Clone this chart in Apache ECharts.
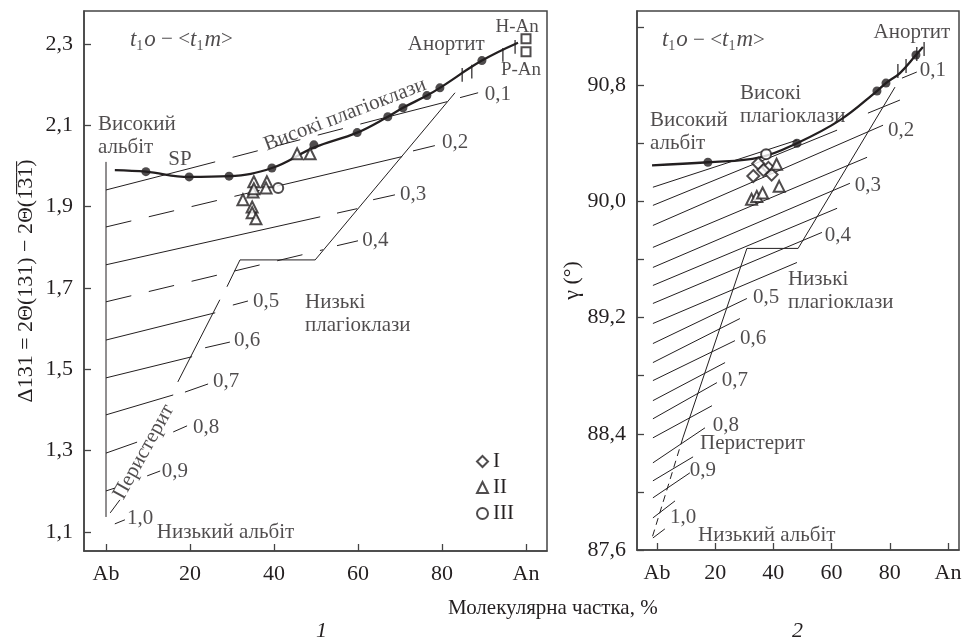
<!DOCTYPE html>
<html>
<head>
<meta charset="utf-8">
<script src="https://cdn.jsdelivr.net/npm/echarts@6/dist/echarts.min.js"></script>
<style>
  html, body { margin: 0; padding: 0; background: #fff; }
  #chart { width: 968px; height: 640px; }
</style>
</head>
<body>
<div id="chart"></div>
<script>
const FONT = "'Liberation Serif', 'DejaVu Serif', serif";
const INK = "#231f20";

// ---------- panel 1 : Δ131 ----------
const curve1 = [[2.1,1.99],[9.5,1.986],[19.8,1.973],[29.3,1.975],[39.5,1.995],[49.5,2.045],[59.8,2.082],[67.1,2.121],[70.7,2.143],[76.4,2.173],[79.5,2.192],[89.5,2.259],[98.1,2.303]];
const dots1 = [[9.5,1.986],[19.8,1.973],[29.3,1.975],[39.5,1.995],[49.5,2.052],[59.8,2.082],[67.1,2.121],[70.7,2.143],[76.4,2.173],[79.5,2.192],[89.5,2.259]];
const tri1 = [[35.2,1.961],[38.3,1.961],[35.0,1.936],[38.1,1.946],[32.6,1.917],[34.8,1.899],[34.8,1.885],[35.7,1.870],[35.2,1.944],[45.5,2.030],[48.6,2.030]];
const circ1 = [[41,1.946]];
const sq1 = [[100,2.313],[100,2.281]];
const curveTicks1 = [[84.8,2.207,2.241],[87.1,2.215,2.249],[94.5,2.256,2.290],[97.4,2.276,2.310]];
const solid1 = [
  [[0,1.941],[20,1.994]], [[65,2.115],[81.2,2.158]],
  [[41,1.951],[70.5,2.023]],
  [[0,1.757],[51,1.875]], [[55,1.884],[59.8,1.895]],
  [[0,1.572],[26,1.639]],
  [[0,1.479],[20.5,1.531]],
  [[0,1.388],[16,1.437]],
  [[0,1.294],[7.4,1.321]],
  [[0,1.201],[2.1,1.208]],
  [[0,2.010],[0,1.137]],
  [[83.1,2.180],[49.8,1.769],[31.9,1.769],[28.8,1.703]],
  [[27.1,1.671],[17.1,1.469]],
  [[3.3,1.179],[1.0,1.147]]
];
const dashed1 = [
  [[20,1.994],[65,2.115]],
  [[0,1.85],[41,1.951]],
  [[0,1.666],[51.7,1.794]]
];
const leaders1 = [
  [[84.3,2.168],[88.6,2.180]], [[73.1,2.037],[78.3,2.050]], [[63.6,1.917],[68.8,1.929]],
  [[55,1.804],[60,1.816]], [[30.2,1.658],[33.8,1.668]], [[23.6,1.553],[29.5,1.567]],
  [[18.8,1.444],[24.3,1.464]], [[16,1.346],[19.3,1.361]], [[9.8,1.238],[12.9,1.250]],
  [[2.1,1.120],[4.5,1.130]]
];
const orderPos1 = [[90.2,2.175],[80,2.057],[70,1.929],[61,1.816],[35,1.666],[30.5,1.570],[25.5,1.469],[20.7,1.358],[13.3,1.248],[5,1.134]];

// ---------- panel 2 : γ ----------
const curve2 = [[-1.7,90.248],[17.5,90.269],[35.4,90.303],[48.1,90.40],[62.9,90.559],[75.6,90.759],[78.7,90.814],[83.5,90.883],[89,91.007],[91.4,91.062]];
const dots2 = [[17.5,90.269],[48.1,90.40],[75.6,90.759],[78.7,90.814],[89,91.007]];
const dia2 = [[34.8,90.26],[38.3,90.23],[33.1,90.174],[39.4,90.184],[36.6,90.215]];
const tri2 = [[41.1,90.255],[42.0,90.103],[32.5,90.014],[34.3,90.034],[36.3,90.057]];
const circ2 = [[37.5,90.324]];
const curveTicks2 = [[82.8,90.849,90.945],[85.6,90.883,90.979],[89.3,90.966,91.062],[91.8,91.0,91.096]];
const solid2 = [
  [[-1.4,90.097],[48.1,90.421]], [[72.5,90.607],[83.5,90.697]],
  [[-1.4,89.972],[61.9,90.490]],
  [[-1.4,89.834],[77.7,90.524]],
  [[-1.4,89.683],[72.2,90.303]],
  [[-1.4,89.545],[66.3,90.124]],
  [[-1.4,89.421],[61.9,89.952]],
  [[-1.4,89.297],[56.7,89.786]],
  [[-1.4,89.159],[48.1,89.579]],
  [[-1.4,89.021],[30.9,89.331]],
  [[-1.4,88.890],[28.5,89.193]],
  [[-1.4,88.766],[26.8,89.041]],
  [[-1.4,88.628],[23.4,88.890]],
  [[-1.4,88.503],[20.6,88.752]],
  [[-1.4,88.372],[18.9,88.593]],
  [[-1.4,88.200],[16.5,88.441]],
  [[-1.4,88.076],[12.4,88.241]],
  [[-1.4,87.959],[11.3,88.131]],
  [[-1.4,87.821],[6.2,87.938]],
  [[-1.4,87.683],[2.7,87.745]],
  [[81.8,90.786],[48.5,89.676],[30.9,89.676],[8.9,88.372]],
  [[84.2,90.848],[89.3,90.890]]
];
const dashed2 = [
  [[8.9,88.372],[-1.7,87.683]]
];
const orderPos2 = [[90.3,90.903],[79.4,90.49],[68.0,90.11],[57.7,89.766],[33.0,89.338],[28.5,89.055],[22.3,88.766],[19.2,88.455],[11.3,88.145],[4.5,87.821]];

const orderLabels = ["0,1","0,2","0,3","0,4","0,5","0,6","0,7","0,8","0,9","1,0"];
const xTicks = [0,20,40,60,80,100];
const yTicks1 = [1.1,1.3,1.5,1.7,1.9,2.1,2.3];
const yLabels2 = [87.6,88.4,89.2,90.0,90.8];
const yTicks2 = [87.6,88.0,88.4,88.8,89.2,89.6,90.0,90.4,90.8,91.2];

const T1O = "{i|t}{s|1}{i|o} − <{i|t}{s|1}{i|m}>";
const notes1 = [
  { t: T1O, p: [5.7,2.310], a: "left" },
  { t: "Високий\nальбіт", p: [-1.9,2.073], a: "left" },
  { t: "SP", p: [17.6,2.017], a: "center" },
  { t: "Високі плагіоклази", p: [56.9,2.126], a: "center", r: 21 },
  { t: "Анортит", p: [81,2.298], a: "center" },
  { t: "H-An", p: [97.9,2.342], a: "center", f: 19 },
  { t: "P-An", p: [98.8,2.237], a: "center", f: 19 },
  { t: "Низькі\nплагіоклази", p: [47.4,1.636], a: "left" },
  { t: "Перистерит", p: [9,1.297], a: "center", r: 61 },
  { t: "Низький альбіт", p: [12.1,1.1], a: "left" }
];
const notes2 = [
  { t: T1O, p: [1.7,91.110], a: "left" },
  { t: "Високий\nальбіт", p: [-2.4,90.479], a: "left" },
  { t: "Високі\nплагіоклази", p: [28.5,90.666], a: "left" },
  { t: "Анортит", p: [87.6,91.159], a: "center" },
  { t: "Низькі\nплагіоклази", p: [45,89.386], a: "left" },
  { t: "Перистерит", p: [14.8,88.331], a: "left" },
  { t: "Низький альбіт", p: [14.1,87.697], a: "left" }
];

const fmt = v => v.toFixed(1).replace(".", ",");

function polySeries(list, idx, dash, width) {
  return list.map(pts => ({
    type: "line", xAxisIndex: idx, yAxisIndex: idx, data: pts,
    symbol: "none", silent: true, smooth: false,
    lineStyle: { color: INK, width: width || 1, type: dash || "solid" }
  }));
}

function tickSeries(list, idx) {
  return list.map(t => ({
    type: "line", xAxisIndex: idx, yAxisIndex: idx,
    data: [[t[0], t[1]], [t[0], t[2]]], symbol: "none", silent: true,
    lineStyle: { color: INK, width: 1.2 }
  }));
}

function noteSeries(notes, idx) {
  return {
    type: "scatter", xAxisIndex: idx, yAxisIndex: idx, symbolSize: 1, silent: true,
    itemStyle: { color: "rgba(0,0,0,0)" },
    data: notes.map(n => ({
      value: n.p,
      label: {
        show: true, position: "inside", formatter: n.t,
        align: n.a, verticalAlign: "middle", rotate: n.r || 0,
        fontFamily: FONT, fontSize: n.f || 21, color: INK, lineHeight: 23,
        rich: {
          i: { fontFamily: FONT, fontStyle: "italic", fontSize: 23, color: INK, lineHeight: 26 },
          s: { fontFamily: FONT, fontSize: 14, color: INK, verticalAlign: "bottom", lineHeight: 14, padding: [0, 1, 0, 0] }
        }
      }
    }))
  };
}

function orderLabelSeries(pos, idx) {
  return {
    type: "scatter", xAxisIndex: idx, yAxisIndex: idx, symbolSize: 1, silent: true,
    itemStyle: { color: "rgba(0,0,0,0)" },
    data: pos.map((p, i) => ({ value: p, name: orderLabels[i] })),
    label: {
      show: true, position: "inside", formatter: "{b}", align: "left", verticalAlign: "middle",
      fontFamily: FONT, fontSize: 21, color: INK
    }
  };
}

function scatter(name, data, idx, symbol, size, filled) {
  return {
    name: name, type: "scatter", xAxisIndex: idx, yAxisIndex: idx, data: data,
    symbol: symbol, symbolSize: size, silent: true, z: 5,
    itemStyle: filled ? { color: INK } : { color: INK, borderColor: INK, borderWidth: 1.1 }
  };
}

function xAxisFor(idx, min, max) {
  return {
    type: "value", gridIndex: idx, min: min, max: max,
    axisLine: { show: true, onZero: false, lineStyle: { color: "#444", width: 1.5 } },
    axisTick: { show: true, inside: true, length: 7, customValues: xTicks, lineStyle: { color: "#444", width: 1.3 } },
    axisLabel: {
      customValues: xTicks, margin: 12, fontFamily: FONT, fontSize: 22, color: INK,
      formatter: v => (v === 0 ? "Ab" : v === 100 ? "An" : String(v))
    },
    splitLine: { show: false }
  };
}

function yAxisFor(idx, min, max, name, gap, ticks, labels) {
  return {
    type: "value", gridIndex: idx, min: min, max: max,
    name: name, nameLocation: "middle", nameGap: gap, nameRotate: 90,
    nameTextStyle: { fontFamily: FONT, fontSize: 22, color: INK },
    axisLine: { show: true, onZero: false, lineStyle: { color: "#444", width: 1.5 } },
    axisTick: { show: true, inside: true, length: 7, customValues: ticks, lineStyle: { color: "#444", width: 1.3 } },
    axisLabel: { customValues: labels, margin: 11, fontFamily: FONT, fontSize: 22, color: INK, formatter: fmt },
    splitLine: { show: false }
  };
}

const chart = echarts.init(document.getElementById("chart"), null, { renderer: "canvas" });

const option = {
  backgroundColor: "#fff",
  animation: false,
  grid: [
    { left: 84, top: 11, width: 463, height: 540, show: true, borderColor: "#444", borderWidth: 1.5, backgroundColor: "transparent" },
    { left: 637, top: 11, width: 322, height: 539, show: true, borderColor: "#444", borderWidth: 1.5, backgroundColor: "transparent" }
  ],
  xAxis: [xAxisFor(0, -5.24, 105.0), xAxisFor(1, -6.87, 103.8)],
  yAxis: [
    yAxisFor(0, 1.0533, 2.381, "Δ131 = 2Θ(131) − 2Θ(1\u03053\u03051\u0305)", 47, yTicks1, yTicks1),
    yAxisFor(1, 87.6, 91.31, "γ (°)", 54, yTicks2, yLabels2)
  ],
  legend: {
    data: ["I", "II", "III"], orient: "vertical", left: 471, top: 446,
    itemWidth: 11, itemHeight: 11, itemGap: 5, selectedMode: false,
    textStyle: { fontFamily: FONT, fontSize: 21, color: INK }
  },
  graphic: [
    { type: "text", left: 448, top: 598, style: { text: "Молекулярна частка, %", font: "21px " + FONT, fill: INK } },
    { type: "text", left: 316, top: 620, style: { text: "1", font: "italic 22px " + FONT, fill: INK } },
    { type: "text", left: 792, top: 620, style: { text: "2", font: "italic 22px " + FONT, fill: INK } }
  ],
  series: [
    ...polySeries(solid1, 0),
    ...polySeries(dashed1, 0, [26, 18]),
    ...polySeries(leaders1, 0),
    ...tickSeries(curveTicks1, 0),
    { type: "line", xAxisIndex: 0, yAxisIndex: 0, data: curve1, symbol: "none", smooth: 0.4, silent: true, lineStyle: { color: INK, width: 2.3 } },
    scatter("dots1", dots1, 0, "circle", 9, true),
    scatter("II", tri1, 0, "emptyTriangle", 11, false),
    scatter("III", circ1, 0, "emptyCircle", 10, false),
    scatter("sq", sq1, 0, "emptyRect", 9, false),
    orderLabelSeries(orderPos1, 0),
    noteSeries(notes1, 0),

    ...polySeries(solid2, 1),
    ...polySeries(dashed2, 1, [7, 5]),
    ...tickSeries(curveTicks2, 1),
    { type: "line", xAxisIndex: 1, yAxisIndex: 1, data: curve2, symbol: "none", smooth: 0.4, silent: true, lineStyle: { color: INK, width: 2.3 } },
    scatter("dots2", dots2, 1, "circle", 9, true),
    scatter("I", dia2, 1, "emptyDiamond", 12, false),
    scatter("II", tri2, 1, "emptyTriangle", 11, false),
    scatter("III", circ2, 1, "emptyCircle", 10, false),
    orderLabelSeries(orderPos2, 1),
    noteSeries(notes2, 1)
  ]
};

chart.setOption(option);
</script>
</body>
</html>
